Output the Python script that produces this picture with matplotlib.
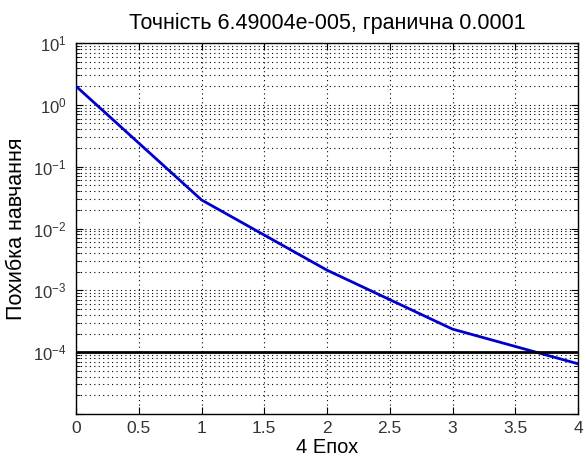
import matplotlib
matplotlib.use("Agg")
import matplotlib.pyplot as plt
from matplotlib.ticker import LogLocator, NullFormatter, FixedLocator, FixedFormatter

plt.rcParams['font.family'] = ['Liberation Sans', 'DejaVu Sans']
plt.rcParams['mathtext.fontset'] = 'custom'
plt.rcParams['mathtext.rm'] = 'Liberation Sans'
plt.rcParams['mathtext.it'] = 'Liberation Sans'

epochs = [0, 1, 2, 3, 4]
errors = [2.0, 0.029, 0.00212, 0.000236, 6.49004e-05]
goal = 0.0001
x_ticks = [0, 0.5, 1, 1.5, 2, 2.5, 3, 3.5, 4]
x_tick_labels = ['0', '0.5', '1', '1.5', '2', '2.5', '3', '3.5', '4']
y_ticks = [1e-5, 1e-4, 1e-3, 1e-2, 1e-1, 1e0, 1e1]
y_tick_labels = ['', r'$10^{-4}$', r'$10^{-3}$', r'$10^{-2}$', r'$10^{-1}$', r'$10^{0}$', r'$10^{1}$']
title_text = 'Точність 6.49004e-005, гранична 0.0001'
xlabel_text = '4 Епох'
ylabel_text = 'Похибка навчання'

fig = plt.figure(figsize=(5.86, 4.59), dpi=100)
ax = fig.add_axes([76/586, 1-414/459, (578-76)/586, (414-43)/459])

ax.set_yscale('log')
ax.set_xlim(0, 4)
ax.set_ylim(1e-5, 1e1)

ax.yaxis.set_major_locator(FixedLocator(y_ticks))
ax.yaxis.set_major_formatter(FixedFormatter(y_tick_labels))
ax.yaxis.set_minor_locator(LogLocator(base=10, subs=range(2, 10), numticks=20))
ax.yaxis.set_minor_formatter(NullFormatter())
ax.xaxis.set_major_locator(FixedLocator(x_ticks))
ax.xaxis.set_major_formatter(FixedFormatter(x_tick_labels))

ax.grid(True, which='major', linestyle=(0, (1, 3)), color='black', linewidth=0.8)
ax.grid(True, which='minor', axis='y', linestyle=(0, (1, 3)), color='black', linewidth=0.8)

ax.plot(epochs, errors, color='#0000cc', linewidth=2.0, zorder=3)
ax.axhline(goal, color='black', linewidth=2.0, zorder=3)

ax.tick_params(which='both', direction='in', top=True, right=True,
               labelcolor='#333333')
ax.tick_params(axis='x', labelsize=12.5, pad=5)
ax.tick_params(axis='y', labelsize=12, pad=7)
ax.tick_params(which='major', length=5)
ax.tick_params(which='minor', length=3)
for s in ax.spines.values():
    s.set_linewidth(1.0)

ax.set_title(title_text, fontsize=15.5, y=(414-29)/371, va='baseline', pad=0)
xl = ax.set_xlabel(xlabel_text, fontsize=14.5)
xl.set_va('baseline')
ax.xaxis.set_label_coords(0.5, (414-453)/371)
ax.set_ylabel(ylabel_text, fontsize=15.5)
ax.yaxis.set_label_coords(-0.098, 0.5)

fig.savefig('out.png', dpi=100)
